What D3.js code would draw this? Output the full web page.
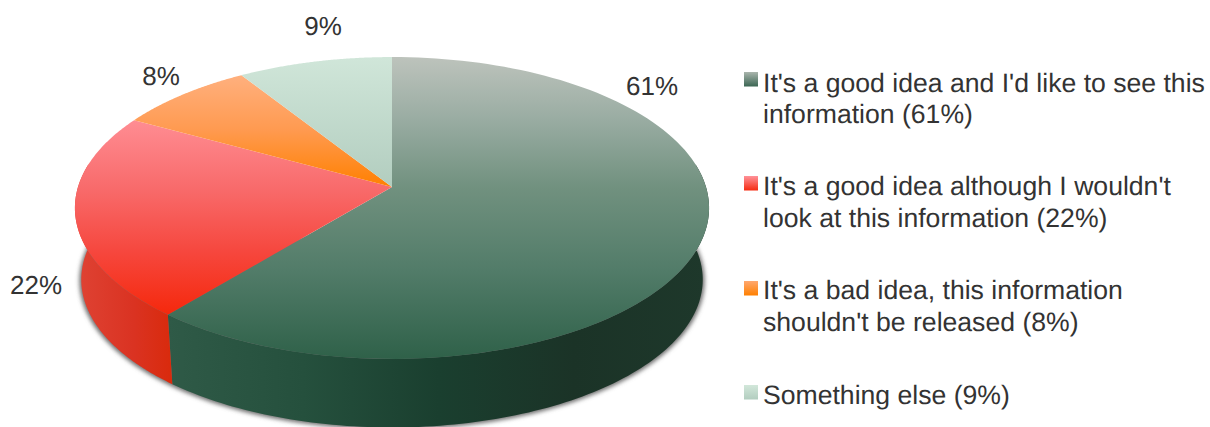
<!DOCTYPE html>
<html><head><meta charset="utf-8">
<script src="https://cdn.jsdelivr.net/npm/d3@7"></script>
<style>html,body{margin:0;padding:0;background:#fff}svg{display:block}text{font-family:"Liberation Sans",Arial,sans-serif;fill:#333;text-rendering:geometricPrecision}</style>
</head><body><svg id="c" width="1210" height="427"></svg>
<script>
const categories = ["good-see","good-nolook","bad","else"];
const values = [61,22,8,9];
const percentLabels = ["61%","22%","8%","9%"];
const legendLines = [
 ["It's a good idea and I'd like to see this","information (61%)"],
 ["It's a good idea although I wouldn't","look at this information (22%)"],
 ["It's a bad idea, this information","shouldn't be released (8%)"],
 ["Something else (9%)"]];

// layout
const W=1210,H=427, cx=392, cy=187, A=314, B=148, K=0.139, depth=72, bottomScale=0.98;
const labelXY=[[652,86],[36,285],[161,76],[323,26]];
const legendRows=[[84,115],[187,219],[291,323],[396]];
const swatchY=[72,176,281,385];
const topStops=[
 [[57,"#bdc3bc"],[120,"#99aca2"],[187,"#71917f"],[270,"#527c69"],[359,"#2f6149"]],
 [[118,"#ff8e94"],[190,"#f86a6a"],[250,"#f6483f"],[315,"#f5280c"]],
 [[75,"#ffb07e"],[130,"#ff9a50"],[187,"#ff8000"]],
 [[57,"#d0e6d9"],[187,"#b2cdbf"]]];
const sideStops=[
 [[0,"#2f5a47"],[0.25,"#25503d"],[0.5,"#1a3f2f"],[0.75,"#1b3327"],[1,"#1e382b"]],
 [[0,"#df4334"],[0.6,"#da3322"],[1,"#d92a0c"]]];
const swatchStops=[["#aab5ad","#3b6653"],["#ff9299","#f52a10"],["#ffa870","#ff8000"],["#d2e7da","#b2cdbf"]];

const svg=d3.select("#c"), defs=svg.append("defs");
const pie=d3.pie().sort(null).value(d=>d)(values);

// perspective projection of a point on the disc rim
const proj=(t,s=1,dy=0)=>{
  const u=-Math.cos(t), w=1-K*u;
  return [cx+s*A*Math.sin(t)/w, cy+s*B*u/w+dy];
};
const line=d3.line();
const rimAngles=(a,b)=>d3.range(0,121).map(i=>a+(b-a)*i/120);

function grad(id,stops,attrs){
  const g=defs.append("linearGradient").attr("id",id);
  Object.entries(attrs).forEach(([k,v])=>g.attr(k,v));
  stops.forEach(([o,c])=>g.append("stop").attr("offset",o).attr("stop-color",c));
}
pie.forEach((p,i)=>{
  grad("top"+i,topStops[i].map(([y,c])=>[(y-50)/320,c]),{gradientUnits:"userSpaceOnUse",x1:0,x2:0,y1:50,y2:370});
  if(sideStops[i]) grad("side"+i,sideStops[i],{gradientUnits:"objectBoundingBox",x1:0,x2:1,y1:0,y2:0});
  grad("sw"+i,swatchStops[i].map((c,j)=>[j,c]),{x1:0,x2:0,y1:0,y2:1});
});
const f=defs.append("filter").attr("id","blur").attr("x","-5%").attr("y","-5%").attr("width","110%").attr("height","110%");
f.append("feGaussianBlur").attr("stdDeviation",2.2);

// soft drop shadow under the base (front half only)
const frontMin=Math.PI*0.45, frontMax=Math.PI*1.55;
svg.append("path").attr("d",line(rimAngles(frontMin,frontMax).map(t=>proj(t,bottomScale+0.006,depth+1)))+"Z")
  .attr("fill","#707070").attr("filter","url(#blur)");

// side walls: only the front-facing part of each slice
pie.forEach((p,i)=>{
  const a=Math.max(p.startAngle,frontMin), b=Math.min(p.endAngle,frontMax);
  if(b<=a) return;
  const r=rimAngles(a,b);
  const pts=r.map(t=>proj(t)).concat(r.slice().reverse().map(t=>proj(t,bottomScale,depth)));
  svg.append("path").attr("d",line(pts)+"Z").attr("fill",`url(#side${i})`);
});

// top surface
pie.forEach((p,i)=>{
  const pts=[[cx,cy]].concat(rimAngles(p.startAngle,p.endAngle).map(t=>proj(t)));
  svg.append("path").attr("d",line(pts)+"Z").attr("fill",`url(#top${i})`);
});

// percent labels
percentLabels.forEach((s,i)=>{
  svg.append("text").attr("x",labelXY[i][0]).attr("y",labelXY[i][1]+9)
    .attr("text-anchor","middle").attr("font-size",26).text(s);
});

// legend
legendLines.forEach((ls,i)=>{
  svg.append("rect").attr("x",744).attr("y",swatchY[i]).attr("width",14).attr("height",14.5).attr("fill",`url(#sw${i})`);
  ls.forEach((l,j)=>svg.append("text").attr("x",763).attr("y",legendRows[i][j]+8).attr("font-size",26.6).text(l));
});
</script></body></html>
